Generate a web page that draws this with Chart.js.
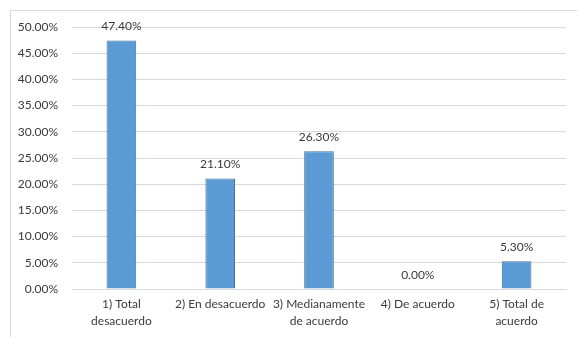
<!DOCTYPE html>
<html>
<head>
<meta charset="utf-8">
<script src="https://cdn.jsdelivr.net/npm/chart.js@4"></script>
<style>
  html, body { margin: 0; padding: 0; background: #fff; }
  #wrap { position: relative; width: 577px; height: 337px; }
  #frame {
    position: absolute; left: 10px; top: 10px; right: 0; bottom: 0;
    border-left: 1px solid #d9d9d9; border-top: 1px solid #d9d9d9;
  }
  canvas { position: absolute; left: 0; top: 0; }
</style>
</head>
<body>
<div id="wrap">
  <div id="frame"></div>
  <canvas id="chart" width="577" height="337"></canvas>
</div>
<script>
const categories = [
  ["1) Total", "desacuerdo"],
  "2) En desacuerdo",
  ["3) Medianamente", "de acuerdo"],
  "4) De acuerdo",
  ["5) Total de", "acuerdo"],
];
const percentages = [47.4, 21.1, 26.3, 0.0, 5.3];
const yTicksMax = 50;
const yTicksStep = 5;

const textColor = "#3a3a3a";
const fontFamily = "Lato, 'Liberation Sans', sans-serif";

// value labels above each bar
const valueLabels = {
  id: "valueLabels",
  afterDatasetsDraw(chart) {
    const ctx = chart.ctx;
    const meta = chart.getDatasetMeta(0);
    ctx.save();
    ctx.font = "12px " + fontFamily;
    ctx.fillStyle = textColor;
    ctx.textAlign = "center";
    ctx.textBaseline = "middle";
    meta.data.forEach((bar, i) => {
      ctx.fillText(percentages[i].toFixed(2) + "%", bar.x, bar.y - 14);
    });
    ctx.restore();
  },
};

new Chart(document.getElementById("chart"), {
  type: "bar",
  data: {
    labels: categories,
    datasets: [
      {
        data: percentages,
        backgroundColor: "#5B9BD5",
        borderColor: "#41719C",
        borderWidth: 1,
        categoryPercentage: 1,
        barPercentage: 0.3,
      },
    ],
  },
  options: {
    responsive: false,
    animation: false,
    layout: { padding: { top: 27, right: 11, bottom: 0, left: 0 } },
    plugins: { legend: { display: false }, tooltip: { enabled: false } },
    scales: {
      y: {
        min: 0,
        max: yTicksMax,
        ticks: {
          stepSize: yTicksStep,
          padding: 14,
          color: textColor,
          font: { family: fontFamily, size: 12 },
          callback: (v) => v.toFixed(2) + "%",
        },
        grid: { color: "#d9d9d9", drawTicks: false },
        border: { display: false },
        afterFit: (scale) => { scale.width = 72; },
      },
      x: {
        ticks: {
          padding: 7,
          color: textColor,
          font: { family: fontFamily, size: 12, lineHeight: 1.4 },
          maxRotation: 0,
          autoSkip: false,
        },
        grid: { display: false, drawTicks: false },
        border: { color: "#d9d9d9" },
        afterFit: (scale) => { scale.height = 48; },
      },
    },
  },
  plugins: [valueLabels],
});
</script>
</body>
</html>
